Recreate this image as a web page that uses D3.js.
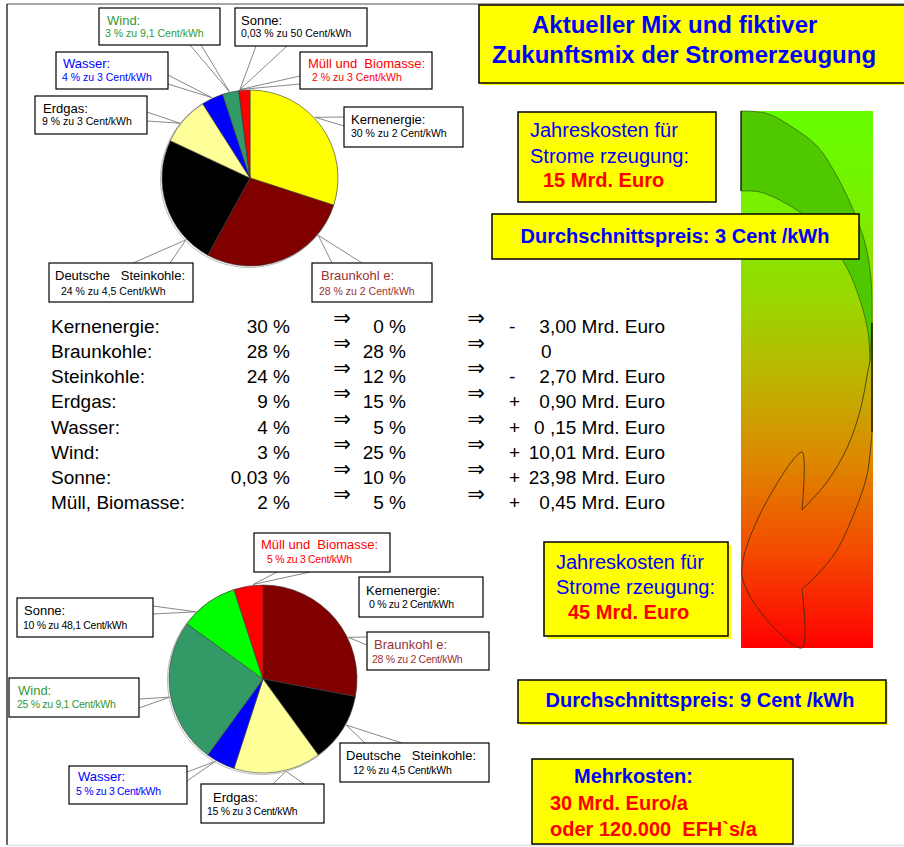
<!DOCTYPE html>
<html>
<head>
<meta charset="utf-8">
<script src="https://cdn.jsdelivr.net/npm/d3@7"></script>
<style>
  html, body { margin: 0; padding: 0; background: #fff; }
  svg { display: block; font-family: "Liberation Sans", Arial, sans-serif; }
  text { white-space: pre; }
</style>
</head>
<body>
<svg id="chart" width="904" height="847"></svg>
<script>
// ---- Data ---------------------------------------------------------------
const sources      = ["Kernenergie", "Braunkohle", "Steinkohle", "Erdgas", "Wasser", "Wind", "Sonne", "Müll, Biomasse"];
const tableNames   = ["Kernenergie:", "Braunkohle:", "Steinkohle:", "Erdgas:", "Wasser:", "Wind:", "Sonne:", "Müll, Biomasse:"];
const pieTitles    = ["Kernenergie:", "Braunkohl e:", "Deutsche   Steinkohle:", "Erdgas:", "Wasser:", "Wind:", "Sonne:", "Müll und  Biomasse:"];
const shareNow     = [30, 28, 24, 9, 4, 3, 0.03, 2];
const shareFuture  = [0, 28, 12, 15, 5, 25, 10, 5];
const centNow      = ["2", "2", "4,5", "3", "3", "9,1", "50", "3"];
const centFuture   = ["2", "2", "4,5", "3", "3", "9,1", "48,1", "3"];
const costSign     = ["-", "", "-", "+", "+", "+", "+", "+"];
const costChange   = ["3,00 Mrd. Euro", "0", "2,70 Mrd. Euro", "0,90 Mrd. Euro", "0 ,15 Mrd. Euro", "10,01 Mrd. Euro", "23,98 Mrd. Euro", "0,45 Mrd. Euro"];
const sliceColors  = ["#FFFF00", "#800000", "#000000", "#FFFF99", "#0000FF", "#339966", "#00FF00", "#FF0000"];
const labelColors  = ["#000000", "#993333", "#000000", "#000000", "#0000FF", "#339933", "#000000", "#FF0000"];

const titleLines   = ["Aktueller Mix und fiktiver", "Zukunftsmix der Stromerzeugung"];
const costNow      = "15 Mrd. Euro";
const costFuture   = "45 Mrd. Euro";
const avgNow       = "Durchschnittspreis: 3 Cent /kWh";
const avgFuture    = "Durchschnittspreis: 9 Cent /kWh";
const extraLines   = ["Mehrkosten:", "30 Mrd. Euro/a", "oder 120.000  EFH`s/a"];

// ---- Setup --------------------------------------------------------------
const svg = d3.select("#chart");
const fmtPct = v => String(v).replace(".", ",");

svg.append("rect").attr("width", 904).attr("height", 847).attr("fill", "#fff");

// page frame
svg.append("line").attr("x1", 7).attr("y1", 4).attr("x2", 904).attr("y2", 4)
  .attr("stroke", "#8a8a8a").attr("stroke-width", 1.5);
svg.append("line").attr("x1", 7).attr("y1", 4).attr("x2", 7).attr("y2", 845)
  .attr("stroke", "#000").attr("stroke-width", 1.2);
svg.append("line").attr("x1", 7).attr("y1", 845.5).attr("x2", 904).attr("y2", 845.5)
  .attr("stroke", "#e2e2e2").attr("stroke-width", 1.5);

// ---- Pie charts ---------------------------------------------------------
const pie = d3.pie().sort(null).value(d => d);

function drawPie(values, cents, cx, cy, r, layout, subSpacing) {
  const g = svg.append("g");
  const arc = d3.arc().innerRadius(0).outerRadius(r);
  const arcs = pie(values);

  // leader lines
  layout.forEach((L, i) => {
    if (L.anchor == null) return;
    const a = L.anchor * Math.PI / 180;
    const px = cx + (r + 1) * Math.sin(a), py = cy - (r + 1) * Math.cos(a);
    L.attach.forEach(p => {
      g.append("line").attr("x1", p[0]).attr("y1", p[1]).attr("x2", px).attr("y2", py)
        .attr("stroke", "#6a6a6a").attr("stroke-width", 0.8);
    });
  });

  // soft edge around the disc
  g.append("circle").attr("cx", cx - 1).attr("cy", cy + 1).attr("r", r + 0.5)
    .attr("fill", "none").attr("stroke", "#a8a8a8").attr("stroke-width", 0.8);

  g.selectAll("path.slice").data(arcs).join("path")
    .attr("class", "slice")
    .attr("transform", `translate(${cx},${cy})`)
    .attr("d", arc)
    .attr("fill", (d, i) => sliceColors[i])
    .attr("stroke", "#3a3a3a").attr("stroke-width", 0.6).attr("stroke-linejoin", "round");

  // label boxes
  layout.forEach((L, i) => {
    const [bx, by, bw, bh] = L.box;
    g.append("rect").attr("x", bx).attr("y", by).attr("width", bw).attr("height", bh)
      .attr("fill", "#fff").attr("stroke", "#000").attr("stroke-width", 1.2);
    g.append("text").attr("x", bx + L.t[0]).attr("y", by + L.t[1])
      .attr("font-size", 13).attr("fill", labelColors[i]).text(pieTitles[i]);
    g.append("text").attr("x", bx + L.s[0]).attr("y", by + L.s[1])
      .attr("font-size", 10.5).attr("letter-spacing", subSpacing).attr("fill", labelColors[i])
      .text(`${fmtPct(values[i])} % zu ${cents[i]} Cent/kWh`);
  });
}

// label geometry for the current mix
const layoutNow = [
  { box: [344, 107, 119, 40], t: [7, 17], s: [7, 30], anchor: 47,    attach: [[344, 117], [344, 126]] },
  { box: [312, 263, 120, 39], t: [9, 17], s: [7, 32], anchor: 130,   attach: [[332, 263], [362, 263]] },
  { box: [49, 263, 144, 39],  t: [6, 17], s: [12, 32], anchor: 226,  attach: [[133, 263], [170, 263]] },
  { box: [35, 96, 112, 38],   t: [8, 17], s: [7, 29], anchor: 308,   attach: [[147, 112], [147, 121]] },
  { box: [56, 52, 112, 37],   t: [7, 16], s: [6, 29], anchor: 334.6, attach: [[168, 75], [168, 84]] },
  { box: [99, 8, 121, 37],    t: [8, 17], s: [6, 29], anchor: 346.5, attach: [[190, 45], [201, 45]] },
  { box: [235, 8, 132, 38],   t: [6, 17], s: [6, 29], anchor: 353.5, attach: [[256, 46], [287, 46]] },
  { box: [300, 52, 132, 37],  t: [8, 16], s: [12, 29], anchor: 353.5, attach: [[300, 76], [300, 84]] }
];

// label geometry for the future mix
const layoutFuture = [
  { box: [359, 577, 124, 40], t: [7, 18], s: [10, 31], anchor: null },
  { box: [367, 632, 122, 38], t: [7, 17], s: [5, 31], anchor: 64,  attach: [[367, 637], [367, 645]] },
  { box: [340, 743, 149, 39], t: [6, 17], s: [13, 31], anchor: 119, attach: [[365, 743], [402, 743]] },
  { box: [201, 784, 123, 39], t: [12, 18], s: [6, 31], anchor: 166, attach: [[273, 784], [304, 784]] },
  { box: [69, 766, 118, 38],  t: [9, 15], s: [7, 29], anchor: 210, attach: [[187, 772], [187, 781]] },
  { box: [9, 678, 130, 39],   t: [9, 17], s: [8, 30], anchor: 259, attach: [[139, 699], [139, 708]] },
  { box: [17, 598, 136, 39],  t: [7, 17], s: [6, 31], anchor: 315, attach: [[153, 606], [153, 614]] },
  { box: [254, 533, 136, 39], t: [7, 16], s: [13, 30], anchor: 354, attach: [[277, 572], [310, 572]] }
];

drawPie(shareNow, centNow, 250, 178, 88, layoutNow, 0);
drawPie(shareFuture, centFuture, 263, 679, 94, layoutFuture, -0.3);

// ---- Comparison table ---------------------------------------------------
const table = svg.append("g").attr("font-size", 19).attr("fill", "#000");
const rowY = d3.scaleLinear().domain([0, sources.length - 1]).range([333, 509]);

sources.forEach((s, i) => {
  const y = rowY(i);
  table.append("text").attr("x", 51).attr("y", y).text(tableNames[i]);
  table.append("text").attr("x", 290).attr("y", y).attr("text-anchor", "end").text(`${fmtPct(shareNow[i])} %`);
  table.append("text").attr("x", 406).attr("y", y).attr("text-anchor", "end").text(`${fmtPct(shareFuture[i])} %`);
  [342, 476].forEach(x => {
    table.append("text").attr("x", x).attr("y", y - 8).attr("text-anchor", "middle")
      .attr("font-family", "DejaVu Sans").attr("font-size", 21).text("\u21D2");
  });
  if (costSign[i]) table.append("text").attr("x", 509).attr("y", y).text(costSign[i]);
  const isAmount = costChange[i].includes("Euro");
  table.append("text")
    .attr("x", isAmount ? 665 : 541).attr("y", y)
    .attr("text-anchor", isAmount ? "end" : "start")
    .text(costChange[i]);
});

// ---- Colour bar with curved arrow --------------------------------------
const defs = svg.append("defs");
const grad = defs.append("linearGradient").attr("id", "mixGrad")
  .attr("x1", 0).attr("y1", 0).attr("x2", 0).attr("y2", 1);
[[0, "#66FF00"], [0.17, "#77F000"], [0.35, "#99D800"], [0.5, "#BDB400"],
 [0.65, "#DD8800"], [0.82, "#F44A00"], [1, "#FF0000"]].forEach(([o, c]) =>
  grad.append("stop").attr("offset", o).attr("stop-color", c));

svg.append("rect").attr("x", 741).attr("y", 111).attr("width", 132).attr("height", 537)
  .attr("fill", "url(#mixGrad)");

const curve = d3.line().curve(d3.curveCatmullRom);
const join = (...segs) => segs.map((s, i) => i ? curve(s).replace(/^M/, "L") : curve(s)).join("");

const outerTop = [[741, 111], [767, 113.5], [792, 127], [817, 146], [834, 171], [852, 207], [865, 243], [871, 279], [872, 321]];
const innerTop = [[741, 191], [760, 192], [787, 204], [807, 218], [830, 243], [847, 268], [860, 300], [868, 332], [870, 361]];
const outerLow = [[872, 432], [867, 475], [855, 511], [837, 550], [817, 575], [802, 589]];
const innerLow = [[802, 510], [827, 482], [847, 448], [860, 411], [868, 371], [870, 361]];

svg.append("path")
  .attr("d", join(outerTop, [[872, 321], [870, 361]], innerTop.slice().reverse()) + "Z")
  .attr("fill", "#4FC800").attr("stroke", "#2f5a10").attr("stroke-width", 0.7);
svg.append("line").attr("x1", 741).attr("y1", 111).attr("x2", 741).attr("y2", 191)
  .attr("stroke", "#000").attr("stroke-width", 1);

svg.append("path")
  .attr("d", join([[872, 323], [872, 432]], outerLow, [[802, 589], [802, 648], [742, 575], [802, 452], [802, 510]], innerLow))
  .attr("fill", "none").attr("stroke", "#3a2a10").attr("stroke-width", 0.8);
svg.append("line").attr("x1", 872).attr("y1", 323).attr("x2", 872).attr("y2", 432)
  .attr("stroke", "#000").attr("stroke-width", 1);

// ---- Yellow info boxes ---------------------------------------------------
function box(x, y, w, h, shadow) {
  if (shadow) svg.append("rect").attr("x", x + shadow).attr("y", y + shadow).attr("width", w).attr("height", h).attr("fill", "#FFFF00");
  svg.append("rect").attr("x", x).attr("y", y).attr("width", w).attr("height", h)
    .attr("fill", "#FFFF00").attr("stroke", "#000").attr("stroke-width", 1.5);
}
function label(x, y, str, size, color, bold, anchor) {
  svg.append("text").attr("x", x).attr("y", y).attr("font-size", size)
    .attr("font-weight", bold ? "bold" : "normal").attr("fill", color)
    .attr("text-anchor", anchor || "start").text(str);
}
const BLUE = "#0000FF", RED = "#FF0000";

box(479, 5, 430, 78, 2);
label(532, 33, titleLines[0], 24, BLUE, true);
label(492, 63, titleLines[1], 24, BLUE, true);

box(518, 112, 198, 90, 0);
label(530, 137, "Jahreskosten für", 20, BLUE, false);
label(530, 163, "Strome rzeugung:", 20, BLUE, false);
label(543, 187, costNow, 20, RED, true);

box(492, 214, 367, 45, 0);
label(675, 243, avgNow, 20, BLUE, true, "middle");

box(544, 542, 184, 94, 3);
label(556, 569, "Jahreskosten für", 20, BLUE, false);
label(556, 594, "Strome rzeugung:", 20, BLUE, false);
label(568, 619, costFuture, 20, RED, true);

box(518, 680, 368, 43, 2);
label(700, 707, avgFuture, 20, BLUE, true, "middle");

box(532, 759, 261, 85, 0);
label(574, 783, extraLines[0], 20, BLUE, true);
label(550, 810, extraLines[1], 20, RED, true);
label(550, 836, extraLines[2], 20, RED, true);
</script>
</body>
</html>
